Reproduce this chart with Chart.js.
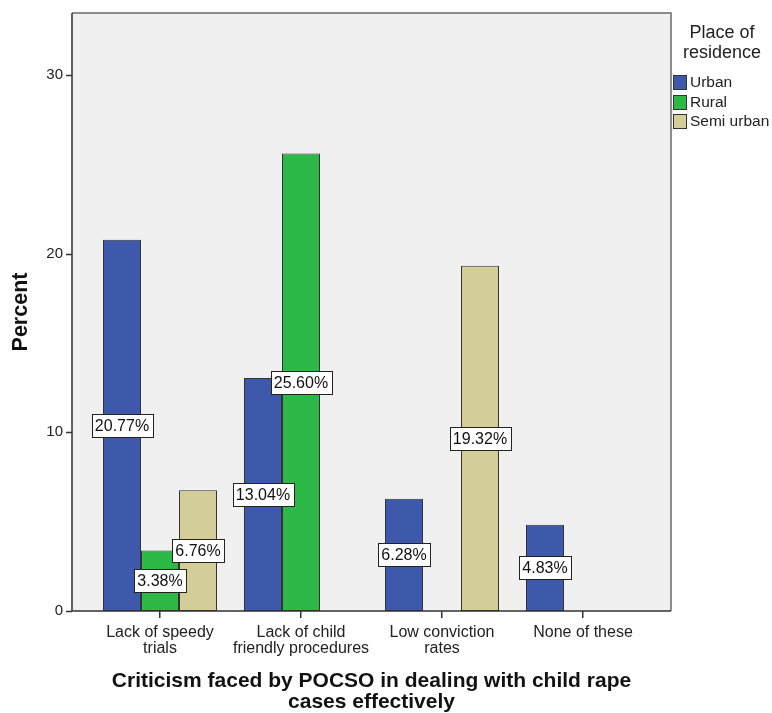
<!DOCTYPE html>
<html><head><meta charset="utf-8">
<script src="https://cdn.jsdelivr.net/npm/chart.js@4.4.1/dist/chart.umd.min.js"></script>
<style>html,body{margin:0;padding:0;background:#fff}#wrap{width:772px;height:713px;position:relative}</style>
</head><body><div id="wrap"><canvas id="c" width="772" height="713"></canvas></div>
<script>
// ---- data ----
const categories = [['Lack of speedy','trials'], ['Lack of child','friendly procedures'], ['Low conviction','rates'], ['None of these']];
const seriesNames = ['Urban', 'Rural', 'Semi urban'];
const urban = [20.77, 13.04, 6.28, 4.83];
const rural = [3.38, 25.60, 0, 0];
const semiUrban = [6.76, 0, 19.32, 0];
const yTickValues = [0, 10, 20, 30];
const legendTitle = ['Place of', 'residence'];
const xTitle = ['Criticism faced by POCSO in dealing with child rape', 'cases effectively'];
const yTitle = 'Percent';

const FONT = "'Liberation Sans', Arial, sans-serif";
const colors = ['#3E58AC', '#2EB848', '#D3CE97'];

const FRAME_PAD = 17.5; // gap between frame and first/last category slot

const framePlugin = {
  id: 'frame',
  beforeDraw(chart) {
    const {ctx, chartArea: a} = chart;
    ctx.save();
    ctx.fillStyle = '#F0F0F0';
    ctx.fillRect(a.left - FRAME_PAD, a.top, a.right - a.left + 2 * FRAME_PAD, a.bottom - a.top);
    ctx.restore();
  },
  afterDatasetsDraw(chart) {
    const {ctx, chartArea: a, scales} = chart;
    const L = a.left - FRAME_PAD, R = a.right + FRAME_PAD;
    ctx.save();
    ctx.strokeStyle = '#6a6a6a';
    ctx.lineWidth = 1.5;
    ctx.beginPath();
    ctx.moveTo(L, a.top); ctx.lineTo(R, a.top); ctx.lineTo(R, a.bottom);
    ctx.stroke();
    ctx.strokeStyle = '#333';
    ctx.beginPath();
    ctx.moveTo(L, a.top); ctx.lineTo(L, a.bottom); ctx.lineTo(R, a.bottom);
    ctx.stroke();
    // y tick marks
    const y = scales.y;
    ctx.lineWidth = 1.5;
    y.ticks.forEach(t => {
      const py = Math.round(y.getPixelForValue(t.value)) + 0.5;
      ctx.beginPath(); ctx.moveTo(L - 6, py); ctx.lineTo(L, py); ctx.stroke();
    });
    // value labels
    ctx.font = '16px ' + FONT;
    ctx.textAlign = 'center';
    ctx.textBaseline = 'middle';
    chart.data.datasets.forEach((ds, di) => {
      const meta = chart.getDatasetMeta(di);
      meta.data.forEach((bar, i) => {
        const v = ds.data[i];
        if (!v) return;
        const cx = bar.x, cy = (bar.y + bar.base) / 2;
        const txt = v.toFixed(2) + '%';
        const w = Math.round(ctx.measureText(txt).width) + 7, h = 23;
        const bx = Math.round(cx - w / 2) + 0.5, by = Math.round(cy - h / 2) + 0.5;
        ctx.fillStyle = '#fff';
        ctx.fillRect(bx, by, w, h);
        ctx.strokeStyle = '#222';
        ctx.lineWidth = 1;
        ctx.strokeRect(bx, by, w, h);
        ctx.fillStyle = '#111';
        ctx.fillText(txt, cx, cy + 1);
      });
    });
    ctx.restore();
  },
  afterDraw(chart) {
    const {ctx} = chart;
    ctx.save();
    ctx.fillStyle = '#222';
    ctx.font = '18px ' + FONT;
    ctx.textAlign = 'center';
    ctx.textBaseline = 'middle';
    legendTitle.forEach((t, i) => ctx.fillText(t, 722, 33 + i * 20));
    ctx.font = '15.5px ' + FONT;
    ctx.textAlign = 'left';
    chart.data.datasets.forEach((ds, i) => {
      const cy = 82 + i * 19.5;
      ctx.fillStyle = ds.backgroundColor;
      ctx.fillRect(673.5, Math.round(cy - 7) + 0.5, 13, 14);
      ctx.strokeStyle = '#333';
      ctx.lineWidth = 1;
      ctx.strokeRect(673.5, Math.round(cy - 7) + 0.5, 13, 14);
      ctx.fillStyle = '#222';
      ctx.fillText(ds.label, 690, cy + 1);
    });
    ctx.restore();
  }
};

const dsCommon = {borderColor: '#333', borderWidth: 1, borderSkipped: false, categoryPercentage: 114 / 141, barPercentage: 1.0};

new Chart(document.getElementById('c'), {
  type: 'bar',
  data: {
    labels: categories,
    datasets: [
      Object.assign({label: seriesNames[0], data: urban, backgroundColor: colors[0]}, dsCommon),
      Object.assign({label: seriesNames[1], data: rural, backgroundColor: colors[1]}, dsCommon),
      Object.assign({label: seriesNames[2], data: semiUrban, backgroundColor: colors[2]}, dsCommon)
    ]
  },
  options: {
    responsive: false,
    animation: false,
    devicePixelRatio: 1,
    layout: {padding: {left: 0, top: 13, right: 118.5, bottom: 0}},
    plugins: {legend: {display: false}, tooltip: {enabled: false}},
    scales: {
      x: {
        offset: true,
        grid: {drawOnChartArea: false, offset: false, tickLength: 7, color: '#333', lineWidth: 1.5},
        border: {display: false},
        ticks: {font: {family: FONT, size: 16, lineHeight: '16px'}, color: '#222', padding: 7, maxRotation: 0, autoSkip: false},
        title: {display: true, text: xTitle, font: {family: FONT, size: 21, weight: 'bold', lineHeight: '21px'}, color: '#111', padding: {top: 0, bottom: 0}},
        afterFit(s) { s.height = 102; s.paddingLeft = 0; s.paddingRight = 0; }
      },
      y: {
        min: 0,
        max: 33.46,
        grid: {display: false, drawTicks: false},
        border: {display: false},
        afterBuildTicks(s) { s.ticks = yTickValues.map(v => ({value: v})); },
        ticks: {font: {family: FONT, size: 15}, color: '#222', padding: 26.5, includeBounds: false},
        title: {display: true, text: yTitle, font: {family: FONT, size: 21.5, weight: 'bold', lineHeight: 1.2}, color: '#111', padding: {top: 8, bottom: 0}},
        afterFit(s) { s.width = 89.5; s.paddingTop = 0; s.paddingBottom = 0; }
      }
    }
  },
  plugins: [framePlugin]
});
</script></body></html>
